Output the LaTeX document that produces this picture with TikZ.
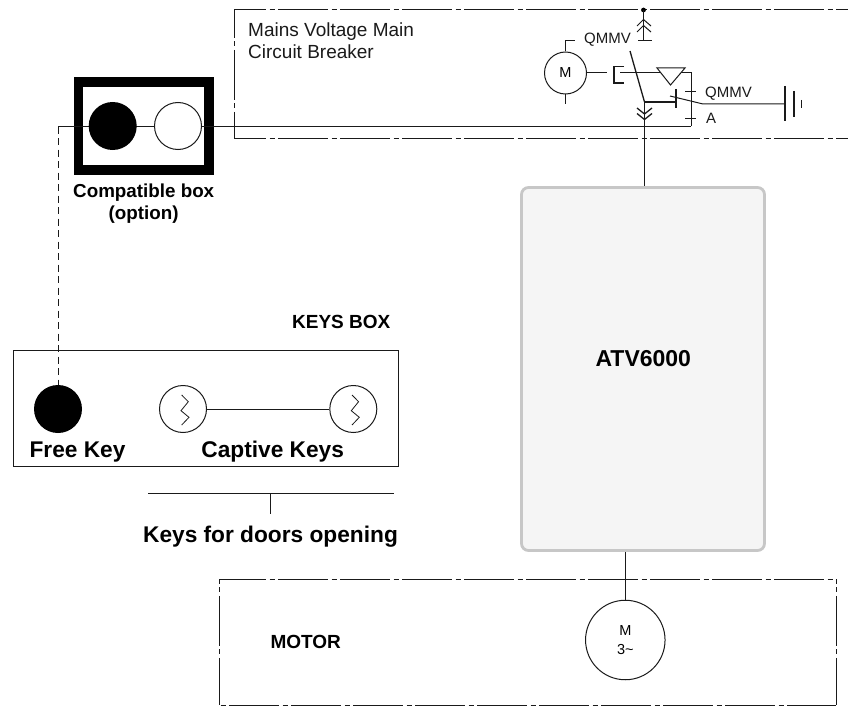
\documentclass[tikz,border=0pt]{standalone}
\usepackage{fontspec}
\setmainfont{Liberation Sans}
\usetikzlibrary{calc}
\definecolor{ink}{HTML}{1A1A1A}
\tikzset{
  x=1pt,y=-1pt,
  wire/.style={draw=ink,line width=1pt},
  thickwire/.style={draw=ink,line width=1.3pt},
  zone/.style={draw=ink,line width=1pt,dash pattern=on 50pt off 3.5pt on 5pt off 3.5pt,dash phase=#1},
  keydash/.style={draw=ink,line width=1.4pt,dash pattern=on 7pt off 4.5pt},
  solidkey/.style={circle,fill=black,draw=none,inner sep=0pt,minimum size=48pt},
  openkey/.style={circle,fill=white,draw=ink,line width=1pt,inner sep=0pt,minimum size=47pt},
  boldlabel/.style={font=\fontsize{#1}{#1}\selectfont\bfseries,inner sep=0pt,text=black,anchor=base},
  plainlabel/.style={font=\fontsize{#1}{#1}\selectfont,inner sep=0pt,text=ink,anchor=base west},
}
\begin{document}
\begin{tikzpicture}
\useasboundingbox (0,0) rectangle (848,706);

% mains zone
\coordinate (mainsTL) at (234,10);
\coordinate (mainsBL) at (234,138.7);
\coordinate (mainsTR) at (848,10);
\coordinate (mainsBR) at (848,138.7);
\draw[zone=18] (mainsTL) -- (mainsTR);
\draw[zone=22] (mainsTL) -- (mainsBL);
\draw[zone=18] (mainsBL) -- (mainsBR);
\node[plainlabel=19] (mainsa) at (248,36.7) {Mains Voltage Main};
\node[plainlabel=19] (mainsb) at (248,58.3) {Circuit Breaker};

% drive
\node[draw=black!22,fill=black!4,line width=2.8pt,rounded corners=7pt,minimum width=243pt,minimum height=363pt,inner sep=0pt] (atv) at (643,369) {};
\node[boldlabel=23] (atvlabel) at (643.3,366.3) {ATV6000};

% motor zone
\node[minimum width=616.7pt,minimum height=125pt,inner sep=0pt] (motorzone) at (527.7,642.5) {};
\draw[zone=3] (motorzone.north west) -- (motorzone.north east);
\draw[zone=46] (motorzone.north west) -- (motorzone.south west);
\draw[zone=52] (motorzone.south west) -- (motorzone.south east);
\draw[zone=46] (motorzone.north east) -- (motorzone.south east);
\node[boldlabel=19,anchor=base west] (motorlabel) at (270.3,648.7) {MOTOR};
\node[circle,draw=ink,line width=1pt,minimum size=79.5pt,inner sep=0pt,fill=white,align=center,font=\fontsize{14.5}{18.3}\selectfont] (motor) at (625.3,640) {M\\3\textasciitilde};
\draw[wire] (atv.south -| motor.north) -- (motor.north);

% compatible box
\node[draw=black,line width=9.6pt,minimum width=130.6pt,minimum height=87.8pt,inner sep=0pt] (compat) at (143.9,126) {};
\coordinate (wireleft) at (58.7,126.5);
\coordinate (wireright) at (691,126.5);
\draw[wire] (wireleft) -- (wireright);
\node[solidkey] (freecompat) at (112.7,126) {};
\node[openkey] (opencompat) at (178,126) {};
\node[boldlabel=18.8] (compatlabel) at (143.7,197.3) {Compatible box};
\node[boldlabel=18.8] (optionlabel) at (143.7,219.5) {(option)};

% keys box
\node[boldlabel=19,anchor=base east] (keysboxlabel) at (390.5,328.5) {KEYS BOX};
\node[draw=ink,line width=1pt,minimum width=385pt,minimum height=116.3pt,inner sep=0pt] (keysbox) at (206,408.8) {};
\node[solidkey] (freekey) at (58,409) {};
\draw[keydash] (wireleft) -- (freekey.north -| wireleft);
\node[openkey] (capa) at (183,409) {};
\node[openkey] (capb) at (353.3,409) {};
\draw[wire] (capa) -- (capb);
\draw[draw=ink,line width=0.8pt] (capa.center) ++(-1.3,-14) -- ++(6.6,6.7) -- ++(-7.3,9) -- ++(8,6.6) -- ++(-7.3,7.7);
\draw[draw=ink,line width=0.8pt] (capb.center) ++(-1.3,-14) -- ++(6.6,6.7) -- ++(-7.3,9) -- ++(8,6.6) -- ++(-7.3,7.7);
\node[boldlabel=22.7] (freelabel) at (77.5,457) {Free Key};
\node[boldlabel=22.7] (captivelabel) at (272.7,457) {Captive Keys};
\coordinate (bracketl) at (148,493.7);
\coordinate (bracketr) at (393.5,493.7);
\coordinate (brackett) at (270.7,514);
\draw[wire] (bracketl) -- (bracketr);
\draw[wire] (brackett |- bracketl) -- (brackett);
\node[boldlabel=22.7] (doorslabel) at (270.5,542) {Keys for doors opening};

% breaker
\coordinate (feedtop) at (643.5,10);
\coordinate (feedbar) at (643.5,41);
\fill[black] (feedtop) circle (2.4pt);
\draw[wire] (feedtop) -- (feedbar);
\draw[wire] (638,41) -- (652,41);
\draw[wire] (637,26) -- (643.5,19.5) -- (651,26);
\draw[wire] (637,32) -- (643.5,25.5) -- (651,32);
\coordinate (bladetop) at (630,51);
\coordinate (bladepivot) at (644.5,102);
\draw[thickwire] (bladetop) -- (bladepivot);
\draw[wire] (bladepivot) -- (atv.north -| bladepivot);
\draw[thickwire] (637,108) -- (644.5,114) -- (652,108);
\draw[thickwire] (637,113.5) -- (644.5,119.5) -- (652,113.5);
\coordinate (bar) at (676,102);
\draw[thickwire] (bladepivot) -- (bar);
\draw[thickwire] (676,89) -- (676,108);
\draw[wire] (670,96) -- (703,104) -- (785,104);

% breaker motor
\node[circle,draw=ink,line width=1pt,minimum size=42pt,inner sep=0pt,font=\fontsize{14.5}{14.5}\selectfont] (mcb) at (565.5,73) {M};
\node[plainlabel=15] (qmmva) at (584,43.5) {QMMV};
\draw[wire] (mcb.north) -- (565.5,41) -- (575,41);
\draw[wire] (mcb.south) -- (565.5,104);
\draw[wire] (mcb.east) -- (607,73);
\draw[thickwire] (624,66.5) -- (614,66.5) -- (614,83) -- (624,83);
\draw[wire] (620,72.5) -- (691,72.5) -- (wireright);
\draw[wire,fill=white] (657,68) -- (685,68) -- (670.5,85) -- cycle;
\draw[wire] (685,91.7) -- (696,91.7);
\draw[wire] (685,119) -- (696,119);
\node[plainlabel=15] (qmmvb) at (705,97.5) {QMMV};
\node[plainlabel=15] (alabel) at (706,124) {A};

% auxiliary supply
\draw[thickwire] (785,86) -- (785,121);
\draw[thickwire] (794,91) -- (794,117);
\draw[wire] (801.5,100) -- (801.5,108);
\end{tikzpicture}
\end{document}
